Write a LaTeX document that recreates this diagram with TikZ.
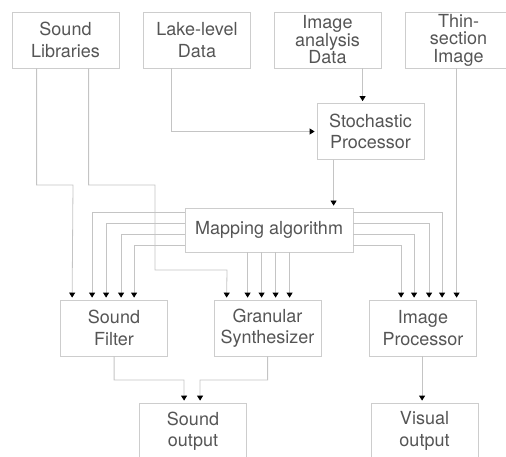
\documentclass[tikz,border=0pt]{standalone}
\usepackage{fontspec}
\setmainfont{TeX Gyre Heros}
\usepackage{tikz}
\usetikzlibrary{arrows.meta, positioning}
\definecolor{linegray}{HTML}{C4C4C4}
\definecolor{boxgray}{HTML}{CDCDCD}
\definecolor{textgray}{HTML}{555555}
\tikzstyle{block} = [rectangle, draw=boxgray, line width=0.8pt, text=textgray,
                 align=center, inner sep=0pt, minimum width=107, minimum height=56,
                 font=\fontsize{18}{21.5}\selectfont]
\tikzset{
	tall/.style={font=\fontsize{18}{17.5}\selectfont},
	flow/.style={draw=linegray, line width=0.8pt, shorten >=2pt,
		-{Triangle[width=6pt,length=5pt,color=black]}},
}
\begin{document}
\begin{tikzpicture}[x=1pt, y=-1pt]
\useasboundingbox (0,0) rectangle (506,457);
\clip (0,0) rectangle (506,457);

% sources
\node [block] at (65.5,40) (slib) {Sound\\Libraries};
\node [block] at (197,40) (lake) {Lake-level\\Data};
\node [block, tall] at (327.5,40) (imgdata) {Image\\analysis\\Data};
\node [block, tall] at (458.5,40) (thin) {Thin-\\section\\Image};

\node [block] at (370.5,131.5) (stoch) {Stochastic\\Processor};
\node [block, minimum width=168, minimum height=44] at (269,230) (map) {Mapping algorithm};

% processors
\node [block] at (114,328) (filter) {Sound\\Filter};
\node [block] at (267.5,328) (gran) {Granular\\Synthesizer};
\node [block] at (423,328) (imgproc) {Image\\Processor};

% outputs
\node [block] at (193,431) (sndout) {Sound\\output};
\node [block] at (424.5,431) (visout) {Visual\\output};

\draw[flow] ([xshift=25]slib.south west) |- (73,185) -- ([xshift=12]filter.north west);
\draw[flow] ([xshift=77]slib.south west) |- (155,185) |- (227,270) -- ([xshift=13]gran.north west);
\draw[flow] ([xshift=28]lake.south west) |- (stoch.west);
\draw[flow] ([xshift=89]imgdata.south west) -- ([xshift=89]imgdata.south west |- stoch.north);
\draw[flow] ([xshift=17]stoch.south west) -- ([xshift=17]stoch.south west |- map.north);

\foreach \dy/\dx in {5/32, 16/46, 27/61, 38/74}
	\draw[flow] ([yshift=-\dy]map.north west) -| ([xshift=\dx]filter.north west);
\foreach \dx in {34, 48, 62, 76}
	\draw[flow] ([xshift=\dx]gran.north west |- map.south) -- ([xshift=\dx]gran.north west);
\foreach \dy/\dx in {5/73, 16/60, 27/45, 38/32}
	\draw[flow] ([yshift=-\dy]map.north east) -| ([xshift=\dx]imgproc.north west);
\draw[flow] ([xshift=52]thin.south west) -- ([xshift=52]thin.south west |- imgproc.north);

\draw[flow] ([xshift=54]filter.south west) |- (184,380) -- ([xshift=45]sndout.north west);
\draw[flow] ([xshift=54]gran.south west) |- (200,380) -- ([xshift=61]sndout.north west);
\draw[flow] ([xshift=53]imgproc.south west) -- ([xshift=53]imgproc.south west |- visout.north);

\end{tikzpicture}
\end{document}
